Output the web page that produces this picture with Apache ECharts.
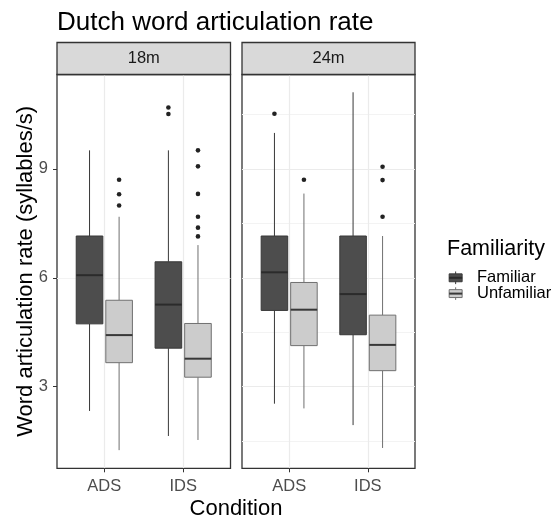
<!DOCTYPE html>
<html>
<head>
<meta charset="utf-8">
<script src="https://cdn.jsdelivr.net/npm/echarts@6/dist/echarts.min.js"></script>
<style>
  html, body { margin: 0; padding: 0; background: #ffffff; }
  #chart { width: 553px; height: 521px; }
</style>
</head>
<body>
<div id="chart"></div>
<script>
// ---- data ----
const categories = ['ADS', 'IDS'];
const panels = ['18m', '24m'];
const groups = ['Familiar', 'Unfamiliar'];

// [lower whisker, Q1, median, Q3, upper whisker], one row per condition (ADS, IDS)
const familiar18m   = [[2.33, 4.73, 6.07, 7.15, 9.51], [1.64, 4.06, 5.26, 6.44, 9.51]];
const unfamiliar18m = [[1.25, 3.66, 4.42, 5.38, 7.68], [1.53, 3.26, 3.77, 4.74, 6.90]];
const familiar24m   = [[2.53, 5.10, 6.15, 7.15, 9.99], [1.94, 4.43, 5.55, 7.15, 11.11]];
const unfamiliar24m = [[2.40, 4.13, 5.12, 5.87, 8.32], [1.31, 3.44, 4.15, 4.97, 7.15]];

// outlying observations, one list per condition (ADS, IDS)
const familiar18mOut   = [[], [10.69, 10.51]];
const unfamiliar18mOut = [[8.70, 8.30, 7.99], [9.51, 9.07, 8.31, 7.68, 7.38, 7.14]];
const familiar24mOut   = [[10.52], []];
const unfamiliar24mOut = [[8.70], [9.06, 8.69, 7.68]];

const yTicks = [3, 6, 9];

// ---- layout / style ----
const FONT = '"Liberation Sans", Arial, sans-serif';
const X_MIN = 0.4, X_MAX = 2.6, SLOT = 0.2;   // discrete axis padded by 0.6 on each side
const DODGE = 0.1875, BOX_WIDTH = 0.3375;
const Y_MIN = 0.75, Y_MAX = 11.6, Y_STEP = 0.75;
const GRID_TOP = 74.5, GRID_H = 393.8;
const gridBoxes = [{ left: 57, width: 173.5 }, { left: 242, width: 173 }];
const STRIP_TOP = 42.5;

const looks = {
  Familiar:   { fill: '#4d4d4d', line: '#383838', median: '#2b2b2b' },
  Unfamiliar: { fill: '#cccccc', line: '#707070', median: '#383838' }
};

// category slots of width SLOT running from X_MIN to X_MAX
const slotCount = Math.round((X_MAX - X_MIN) / SLOT) + 1;
const catSlot = categories.map((c, k) => Math.round((k + 1 - X_MIN) / SLOT));
const slots = [];
for (let i = 0; i < slotCount; i++) {
  const k = catSlot.indexOf(i);
  slots.push(k >= 0 ? categories[k] : '');
}
const isCat = (idx, val) => val !== '';

const boxTable = {
  '18m': { Familiar: familiar18m, Unfamiliar: unfamiliar18m },
  '24m': { Familiar: familiar24m, Unfamiliar: unfamiliar24m }
};
const outTable = {
  '18m': { Familiar: familiar18mOut, Unfamiliar: unfamiliar18mOut },
  '24m': { Familiar: familiar24mOut, Unfamiliar: unfamiliar24mOut }
};
const dodgeOf = { Familiar: -DODGE, Unfamiliar: DODGE };

function boxRenderer(look) {
  return function (params, api) {
    const slot = api.value(0);
    const unit = api.size([1, 0])[0] / SLOT;
    const cx = api.coord([slot, 0])[0] + api.value(1) * unit;
    const half = BOX_WIDTH * unit / 2;
    const y = [2, 3, 4, 5, 6].map(d => api.coord([slot, api.value(d)])[1]);
    return {
      type: 'group',
      children: [
        { type: 'line', shape: { x1: cx, y1: y[0], x2: cx, y2: y[1] }, style: { stroke: look.line, lineWidth: 1 } },
        { type: 'line', shape: { x1: cx, y1: y[3], x2: cx, y2: y[4] }, style: { stroke: look.line, lineWidth: 1 } },
        { type: 'rect', shape: { x: cx - half, y: y[3], width: 2 * half, height: y[1] - y[3] },
          style: { fill: look.fill, stroke: look.line, lineWidth: 1 } },
        { type: 'line', shape: { x1: cx - half, y1: y[2], x2: cx + half, y2: y[2] },
          style: { stroke: look.median, lineWidth: 2 } }
      ]
    };
  };
}

function outlierRenderer(params, api) {
  const slot = api.value(0);
  const unit = api.size([1, 0])[0] / SLOT;
  const p = api.coord([slot, api.value(2)]);
  return { type: 'circle', shape: { cx: p[0] + api.value(1) * unit, cy: p[1], r: 2.3 }, style: { fill: '#222222' } };
}

const grid = [], xAxis = [], yAxis = [], series = [];
panels.forEach((panel, pi) => {
  grid.push({
    left: gridBoxes[pi].left, width: gridBoxes[pi].width, top: GRID_TOP, height: GRID_H,
    show: true, borderColor: '#333333', borderWidth: 1.3, backgroundColor: 'transparent'
  });
  xAxis.push({
    gridIndex: pi, type: 'category', data: slots, boundaryGap: false,
    axisLine: { show: false },
    axisTick: { show: true, interval: isCat, length: 4, lineStyle: { color: '#333333', width: 1 } },
    axisLabel: { interval: isCat, margin: 10, color: '#4d4d4d', fontSize: 16.5, fontFamily: FONT },
    splitLine: { show: true, interval: isCat, lineStyle: { color: '#ebebeb', width: 1.2 } }
  });
  yAxis.push({
    gridIndex: pi, type: 'value', min: Y_MIN, max: Y_MAX, interval: Y_STEP,
    axisLine: { show: false },
    axisTick: pi === 0
      ? { show: true, customValues: yTicks, length: 4, lineStyle: { color: '#333333', width: 1 } }
      : { show: false },
    axisLabel: pi === 0
      ? { show: true, customValues: yTicks, margin: 9, color: '#4d4d4d', fontSize: 16.5, fontFamily: FONT }
      : { show: false },
    splitLine: {
      show: true, showMaxLine: false,
      // lines every 0.75: blank, minor (x.5), blank, major (multiple of 3)
      lineStyle: { color: ['rgba(0,0,0,0)', '#f3f3f3', 'rgba(0,0,0,0)', '#ebebeb'], width: 1.2 }
    }
  });

  groups.forEach(g => {
    const stats = boxTable[panel][g];
    series.push({
      type: 'custom', name: g, xAxisIndex: pi, yAxisIndex: pi,
      renderItem: boxRenderer(looks[g]),
      encode: { x: 0, y: [2, 3, 4, 5, 6] },
      data: categories.map((c, k) => [catSlot[k], dodgeOf[g]].concat(stats[k]))
    });
  });
  groups.forEach(g => {
    const pts = [];
    outTable[panel][g].forEach((vals, k) => vals.forEach(v => pts.push([catSlot[k], dodgeOf[g], v])));
    series.push({
      type: 'custom', name: g + ' outliers', xAxisIndex: pi, yAxisIndex: pi, z: 3,
      renderItem: outlierRenderer,
      encode: { x: 0, y: 2 },
      data: pts
    });
  });
});

// facet strips
const graphic = [];
panels.forEach((panel, pi) => {
  const gb = gridBoxes[pi];
  graphic.push({
    type: 'rect', z: 100,
    shape: { x: gb.left, y: STRIP_TOP, width: gb.width, height: GRID_TOP - STRIP_TOP },
    style: { fill: '#d9d9d9', stroke: '#333333', lineWidth: 1.3 }
  });
  graphic.push({
    type: 'text', z: 101, x: gb.left + gb.width / 2, y: (STRIP_TOP + GRID_TOP) / 2,
    style: { text: panel, fill: '#1a1a1a', font: '16.5px ' + FONT, align: 'center', verticalAlign: 'middle' }
  });
});

// titles
graphic.push({
  type: 'text', x: 57, y: 23,
  style: { text: 'Dutch word articulation rate', fill: '#000000', font: '26px ' + FONT, align: 'left', verticalAlign: 'middle' }
});
graphic.push({
  type: 'text', x: 25.5, y: GRID_TOP + GRID_H / 2, rotation: Math.PI / 2,
  style: { text: 'Word articulation rate (syllables/s)', fill: '#000000', font: '22px ' + FONT, align: 'center', verticalAlign: 'middle' }
});
graphic.push({
  type: 'text', x: (gridBoxes[0].left + gridBoxes[1].left + gridBoxes[1].width) / 2, y: 509,
  style: { text: 'Condition', fill: '#000000', font: '22px ' + FONT, align: 'center', verticalAlign: 'middle' }
});

// legend
graphic.push({
  type: 'text', x: 447, y: 249.5,
  style: { text: 'Familiarity', fill: '#000000', font: '21.5px ' + FONT, align: 'left', verticalAlign: 'middle' }
});
groups.forEach((g, gi) => {
  const look = looks[g];
  const cy = 277.8 + gi * 15.8;
  const kx = 447, kw = 17.3, kh = 15.8;
  const top = cy - kh / 2;
  const cx = kx + kw / 2;
  graphic.push({ type: 'line', shape: { x1: cx, y1: top + 0.1 * kh, x2: cx, y2: top + 0.9 * kh }, style: { stroke: look.line, lineWidth: 1 } });
  graphic.push({ type: 'rect', shape: { x: kx + 0.125 * kw, y: top + 0.25 * kh, width: 0.75 * kw, height: 0.5 * kh },
    style: { fill: look.fill, stroke: look.line, lineWidth: 1 } });
  graphic.push({ type: 'line', shape: { x1: kx + 0.125 * kw, y1: cy, x2: kx + 0.875 * kw, y2: cy }, style: { stroke: look.median, lineWidth: 2 } });
  graphic.push({
    type: 'text', x: 477, y: cy,
    style: { text: g, fill: '#000000', font: '16.5px ' + FONT, align: 'left', verticalAlign: 'middle' }
  });
});

const chart = echarts.init(document.getElementById('chart'), null, { renderer: 'canvas' });
chart.setOption({
  animation: false,
  backgroundColor: '#ffffff',
  grid, xAxis, yAxis, series, graphic
});
</script>
</body>
</html>
